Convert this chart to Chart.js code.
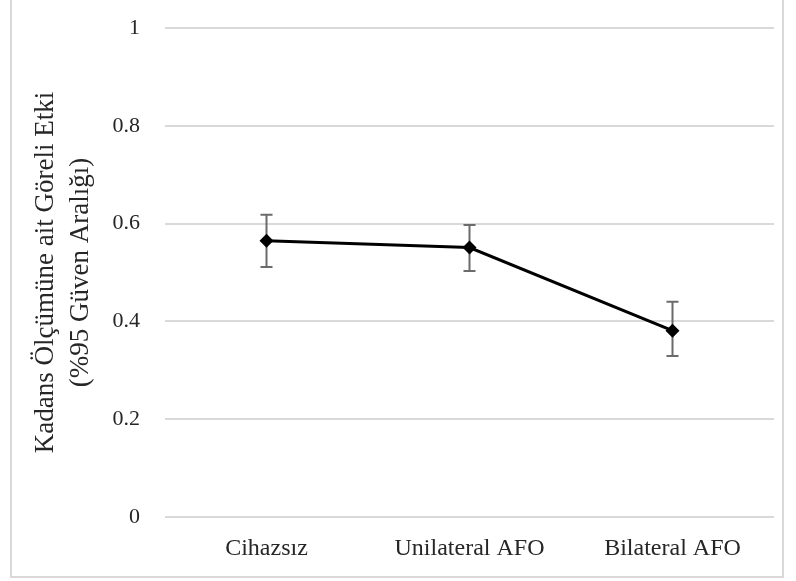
<!DOCTYPE html>
<html>
<head>
<meta charset="utf-8">
<script src="https://cdn.jsdelivr.net/npm/chart.js@4/dist/chart.umd.min.js"></script>
<style>
  html, body { margin: 0; padding: 0; background: #fff; }
  #frame { position: absolute; left: 10px; top: -2px; width: 770px; height: 576px; border: 2px solid #d9d9d9; }
  #wrap { position: absolute; left: 0; top: 0; width: 796px; height: 581px; }
</style>
</head>
<body>
<div id="frame"></div>
<div id="wrap"><canvas id="chart" width="796" height="581"></canvas></div>
<script>
var categories = ['Cihazsız', 'Unilateral AFO', 'Bilateral AFO'];
var effect = [0.565, 0.551, 0.381];
var ciLow = [0.511, 0.503, 0.329];
var ciHigh = [0.618, 0.597, 0.440];
var yTicks = [0, 0.2, 0.4, 0.6, 0.8, 1];
var yTitle = ['Kadans Ölçümüne ait Göreli Etki', '(%95 Güven Aralığı)'];

var serif = "'Liberation Serif', 'Times New Roman', 'DejaVu Serif', serif";

var errorBars = {
    id: 'errorBars',
    beforeDatasetsDraw: function(chart){
        var ctx = chart.ctx;
        var xs = chart.scales.x, ys = chart.scales.y;
        ctx.save();
        ctx.strokeStyle = '#6b6b6b';
        ctx.lineWidth = 2;
        for(var i = 0; i < categories.length; i++){
            var x = xs.getPixelForValue(i);
            var top = ys.getPixelForValue(ciHigh[i]);
            var bot = ys.getPixelForValue(ciLow[i]);
            ctx.beginPath();
            ctx.moveTo(x, top); ctx.lineTo(x, bot);
            ctx.moveTo(x - 6, top); ctx.lineTo(x + 6, top);
            ctx.moveTo(x - 6, bot); ctx.lineTo(x + 6, bot);
            ctx.stroke();
        }
        ctx.restore();
    }
};

window.onload = function(){
    new Chart(document.getElementById('chart').getContext('2d'), {
        type: 'line',
        data: {
            labels: categories,
            datasets: [{
                data: effect,
                borderColor: '#000',
                backgroundColor: '#000',
                borderWidth: 3,
                lineTension: 0,
                fill: false,
                pointStyle: 'rectRot',
                pointRadius: 7,
                pointBorderWidth: 0
            }]
        },
        options: {
            responsive: false,
            animation: false,
            layout: { padding: { left: 12, right: 22, top: 28, bottom: 14 } },
            plugins: { legend: { display: false }, tooltip: { enabled: false } },
            scales: {
                x: {
                    offset: true,
                    grid: { display: false },
                    border: { display: false },
                    ticks: { color: '#262626', padding: 9, font: { family: serif, size: 24 } },
                    afterFit: function(s){ s.height = 50; }
                },
                y: {
                    min: 0, max: 1,
                    afterBuildTicks: function(s){ s.ticks = yTicks.map(function(v){ return { value: v }; }); },
                    grid: { color: '#d9d9d9', lineWidth: 2, drawTicks: false },
                    border: { display: false },
                    ticks: {
                        color: '#262626', padding: 25,
                        font: { family: serif, size: 22 },
                        callback: function(v){ return String(v); }
                    },
                    title: {
                        display: true,
                        text: yTitle,
                        color: '#262626',
                        font: { family: serif, size: 27, lineHeight: 1.3 },
                        padding: { top: 16, bottom: 0 }
                    },
                    afterFit: function(s){ s.width = 153; s.paddingTop = 0; s.paddingBottom = 0; }
                }
            }
        },
        plugins: [errorBars]
    });
};
</script>
</body>
</html>
